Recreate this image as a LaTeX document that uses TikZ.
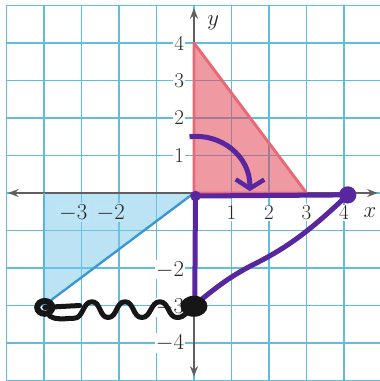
\documentclass[tikz,border=0pt]{standalone}
\usetikzlibrary{arrows.meta,shapes.geometric}
\definecolor{gridc}{RGB}{95,190,222}
\definecolor{pinkf}{RGB}{225,60,80}
\definecolor{rededge}{RGB}{232,105,115}
\definecolor{bluef}{RGB}{120,200,235}
\definecolor{bluebg}{RGB}{188,228,245}
\definecolor{blueedge}{RGB}{60,150,210}
\definecolor{marker}{RGB}{88,38,158}
\definecolor{axisc}{RGB}{95,95,95}
\definecolor{inkc}{RGB}{22,22,22}
\begin{document}
\begin{tikzpicture}[x=1cm,y=1cm,
  lab/.style={font=\fontsize{16}{18}\selectfont, text=black!85, inner sep=1pt, fill=white},
  axisline/.style={axisc, line width=1.5pt, {Stealth[length=8pt,width=6pt]}-{Stealth[length=8pt,width=6pt]}},
  markerline/.style={marker, line width=3.8pt, line cap=round, line join=round},
  inkline/.style={inkc, line width=3.8pt, line cap=round, line join=round},
  dotstyle/.style={circle, fill=#1, inner sep=0pt}]
\useasboundingbox (-5.173,-5.013) rectangle (4.96,5.147);
\fill[white] (-5.173,-5.013) rectangle (4.96,5.147);
% grid
\draw[gridc, line width=1.2pt] (-5,-5.3) grid (5.3,5);
% named points
\coordinate (O) at (0,0);
\coordinate (A) at (0,4);
\coordinate (B) at (3,0);
\coordinate (C) at (-4,0);
\coordinate (D) at (-4,-3);
\coordinate (xl) at (-4.96,0);
\coordinate (xr) at (4.9,0);
\coordinate (yb) at (0,-4.9);
\coordinate (yt) at (0,4.93);
% fills
\fill[pinkf, fill opacity=0.52] (O) -- (A) -- (B) -- cycle;
\fill[bluef, fill opacity=0.5] (O) -- (C) -- (D) -- cycle;
% labels
\node[lab, fill=bluebg] (lm3) at (-3.22,-0.53) {$-3$};
\node[lab, fill=bluebg] (lm2) at (-2.22,-0.53) {$-2$};
\node[lab] (l1) at (1,-0.53) {1};
\node[lab] (l2) at (2,-0.53) {2};
\node[lab] (l3) at (3,-0.53) {3};
\node[lab] (l4) at (4,-0.53) {4};
\node[lab] (lx) at (4.69,-0.53) {$x$};
\node[lab, anchor=east] (ly4) at (-0.22,4) {4};
\node[lab, anchor=east] (ly3) at (-0.22,3) {3};
\node[lab, anchor=east] (ly2) at (-0.22,2) {2};
\node[lab, anchor=east] (ly1) at (-0.22,1) {1};
\node[lab, anchor=east] (lym2) at (-0.22,-2.05) {$-2$};
\node[lab, anchor=east] (lym3) at (-0.22,-3.05) {$-3$};
\node[lab, anchor=east] (lym4) at (-0.22,-4) {$-4$};
\node[lab, fill=none] (ly) at (0.51,4.53) {$y$};
% axes
\draw[axisline] (xl) -- (xr);
\draw[axisline] (yb) -- (yt);
% triangle edges
\draw[rededge, line width=2.2pt, line join=round] (O) -- (A) -- (B) -- cycle;
\draw[blueedge, line width=1.8pt] (O) -- (D);
\draw[gridc!80!blueedge, line width=1.4pt] (C) -- (D);
% purple triangle
\coordinate (P0) at (0.04,-0.08);
\coordinate (P1) at (4.1,-0.05);
\coordinate (P2) at (0.02,-2.98);
\draw[markerline] (P0) -- (P1);
\draw[markerline] (P0) -- (P2);
\draw[markerline] (P1) .. controls (3.2,-0.9) and (2.6,-1.4) .. (1.6,-1.9) .. controls (0.9,-2.25) and (0.5,-2.6) .. (P2);
\node[dotstyle=marker, minimum size=0.46cm] (dE) at (P1) {};
\node[dotstyle=marker, minimum size=0.28cm] (dO) at (P0) {};
% purple curved arrow
\coordinate (arS) at (-0.12,1.5);
\coordinate (arE) at (1.49,0.05);
\draw[markerline, line cap=butt, -{Straight Barb[length=0.24cm,width=0.76cm,line width=3.4pt]}] (arS) .. controls (0.7,1.6) and (1.5,1.0) .. (arE);
% black squiggle arrow
\node[ellipse, fill=inkc, minimum width=0.72cm, minimum height=0.56cm, inner sep=0pt] (dF) at (0,-3.02) {};
\coordinate (loopc) at (-3.98,-3.05);
\draw[inkline] (dF.center) to[out=215,in=0] (-0.45,-3.32)
  to[out=180,in=0] (-0.91,-2.9)
  to[out=180,in=0] (-1.39,-3.32)
  to[out=180,in=0] (-1.84,-2.9)
  to[out=180,in=0] (-2.29,-3.32)
  to[out=180,in=0] (-2.72,-2.9)
  to[out=180,in=0] (-3.2,-3.34)
  to[out=180,in=-30] (-3.85,-3.28);
\draw[inkc, line width=4.6pt] (loopc) ellipse (0.2cm and 0.17cm);
\draw[inkline] (loopc) -- (-3.05,-3.0);
\end{tikzpicture}
\end{document}
